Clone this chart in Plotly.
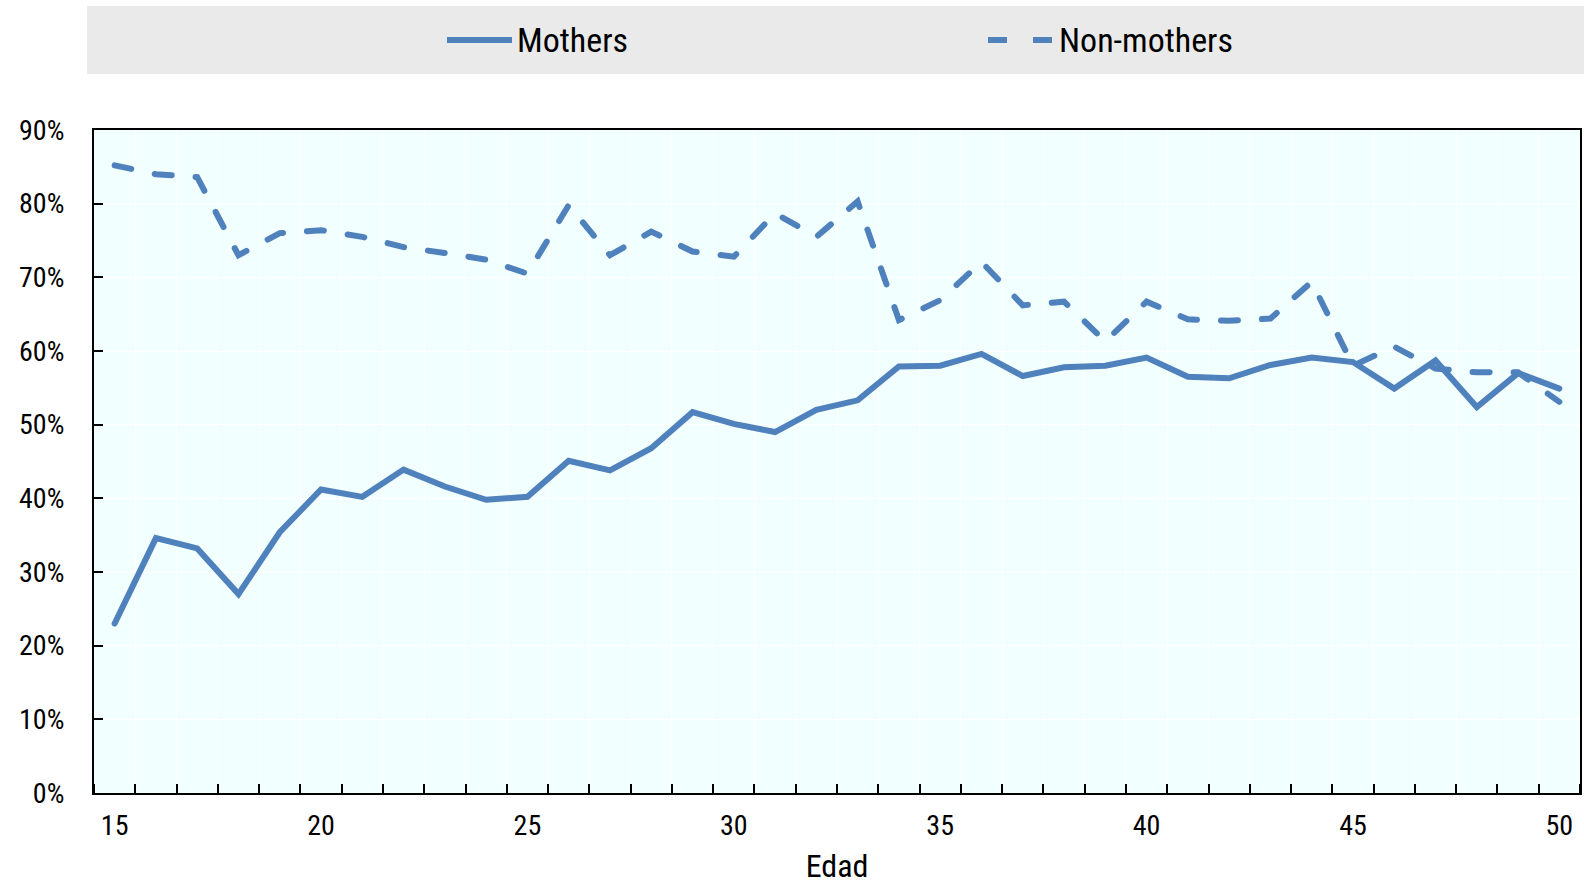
import plotly.graph_objects as go

ages = list(range(15, 51))
mothers = [23.0, 34.6, 33.2, 27.0, 35.4, 41.2, 40.2, 43.9, 41.6, 39.8, 40.2, 45.1,
           43.8, 46.8, 51.7, 50.1, 49.0, 52.0, 53.3, 57.9, 58.0, 59.6, 56.6, 57.8,
           58.0, 59.1, 56.5, 56.3, 58.1, 59.1, 58.5, 54.9, 58.7, 52.4, 57.0, 54.9]
non_mothers = [85.2, 84.0, 83.6, 73.0, 76.0, 76.4, 75.5, 74.1, 73.3, 72.4, 70.5, 79.8,
               73.0, 76.2, 73.5, 72.8, 78.7, 75.5, 80.3, 64.2, 66.9, 72.1, 66.2, 66.7,
               61.3, 66.7, 64.3, 64.1, 64.4, 69.4, 58.0, 60.6, 57.6, 57.1, 57.1, 53.1]
series_names = ["Mothers", "Non-mothers"]
x_tick_labels = [15, 20, 25, 30, 35, 40, 45, 50]
y_ticks = list(range(0, 91, 10))
y_tick_text = [f"{v}%" for v in y_ticks]

BLUE = "#4F81BD"
FONT = "Roboto Condensed, Liberation Sans Narrow, Arial Narrow, Roboto, sans-serif"

fig = go.Figure()
fig.add_trace(go.Scatter(x=ages, y=mothers, mode="lines", name=series_names[0],
                         line=dict(color=BLUE, width=6), showlegend=False))
fig.add_trace(go.Scatter(x=ages, y=non_mothers, mode="lines", name=series_names[1],
                         line=dict(color=BLUE, width=6, dash="17px,24px"), showlegend=False))

W, H = 1584, 885
L, R, T, B = 94, 4, 130, 92
fig.update_layout(
    width=W, height=H,
    margin=dict(l=L, r=R, t=T, b=B, autoexpand=False),
    paper_bgcolor="white",
    plot_bgcolor="#F2FFFF",
    font=dict(family=FONT, size=28, color="black"),
    xaxis=dict(
        range=[14.5, 50.5], automargin=False,
        tickvals=x_tick_labels, ticktext=[str(v) for v in x_tick_labels],
        ticks="", showgrid=False, zeroline=False,
        showline=True, linecolor="black", linewidth=2, mirror=True,
        ticklabelstandoff=6,
        minor=dict(tick0=15.5, dtick=1, ticks="inside", ticklen=9, tickcolor="black",
                   tickwidth=1.5, showgrid=True, gridcolor="white", gridwidth=1),
        title=dict(text="Edad", font=dict(size=32, family=FONT), standoff=14),
    ),
    yaxis=dict(
        range=[0, 90], automargin=False, tickvals=y_ticks, ticktext=y_tick_text,
        ticks="inside", ticklen=9, tickcolor="black", tickwidth=1.5,
        showgrid=True, gridcolor="white", gridwidth=1, zeroline=False,
        showline=True, linecolor="black", linewidth=2, mirror=True,
        ticklabelstandoff=22,
    ),
)

def px_x(px):
    return (px - L) / (W - L - R)

def px_y(py):
    return 1 + (T - py) / (H - T - B)

# Legend band
fig.add_shape(type="rect", xref="paper", yref="paper",
              x0=px_x(87), x1=px_x(W + 2), y0=px_y(74), y1=px_y(6),
              fillcolor="#EAEAEA", line=dict(width=0), layer="below")

legend_y = 40
# (name, list of sample segments in px, text start px)
items = [(series_names[0], [(447, 512)], 515),
         (series_names[1], [(988, 1007), (1033, 1052)], 1057)]
for name, segs, tx in items:
    for x0, x1 in segs:
        fig.add_shape(type="line", xref="paper", yref="paper",
                      x0=px_x(x0), x1=px_x(x1), y0=px_y(legend_y), y1=px_y(legend_y),
                      line=dict(color=BLUE, width=6))
    fig.add_annotation(text=name, xref="paper", yref="paper", x=px_x(tx), y=px_y(legend_y),
                       xanchor="left", yanchor="middle", showarrow=False,
                       font=dict(size=34, family=FONT, color="black"))

post = """
document.body.style.margin='0';
document.documentElement.style.overflow='hidden';
var gd = document.getElementsByClassName('plotly-graph-div')[0];
function caps(){
  document.querySelectorAll('.scatterlayer .js-line, .layer-above path, .layer-below path').forEach(function(p){
    var f = p.style.fill || p.getAttribute('fill');
    if (f === 'none' || f === 'rgba(0, 0, 0, 0)' || f === 'transparent') { p.style.strokeLinecap = 'round'; }
  });
}
caps();
if (gd && gd.on) { gd.on('plotly_afterplot', caps); }
"""
fig.write_html("out.html", post_script=post, config={"displayModeBar": False})
